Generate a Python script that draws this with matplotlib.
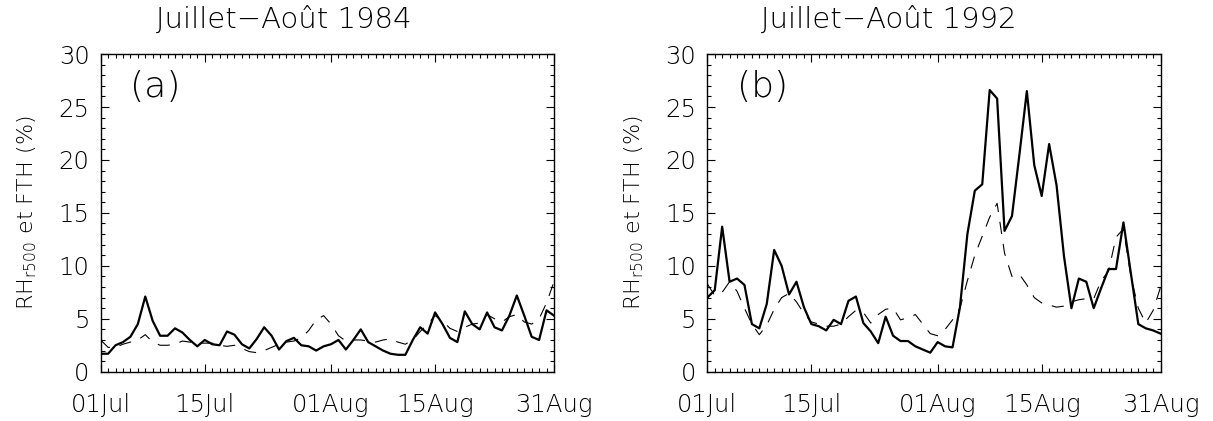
"""
RH r500 et FTH, juillet-aout 1984 / 1992
"""
import numpy as np
import matplotlib
matplotlib.use('Agg')
import matplotlib.pyplot as plt
from matplotlib.ticker import MultipleLocator, FixedLocator, FixedFormatter
from matplotlib.transforms import ScaledTranslation

plt.rcParams['font.family'] = ['DejaVu Sans']
plt.rcParams['font.weight'] = 'light'
plt.rcParams['mathtext.fontset'] = 'custom'
plt.rcParams['mathtext.rm'] = 'DejaVu Sans:light'
plt.rcParams['mathtext.it'] = 'DejaVu Sans:light'
plt.rcParams['mathtext.default'] = 'rm'

# jours depuis le 01 juillet (0..61)
days = np.arange(62)
tick_days = [0, 14, 31, 45, 61]
tick_labels = ['01Jul', '15Jul', '01Aug', '15Aug', '31Aug']

titles = ['Juillet\u2212Août 1984', 'Juillet\u2212Août 1992']
panel_tags = ['(a)', '(b)']
ylabel = r'$\mathrm{RH}_{\mathrm{r500}}\ \mathrm{et\ FTH\ (\%)}$'

# trait plein : RH r500 ; tirets : FTH
rh_1984 = [1.7, 1.7, 2.5, 2.8, 3.3, 4.5, 7.1, 4.8, 3.4, 3.4,
           4.1, 3.7, 3.0, 2.4, 3.0, 2.6, 2.5, 3.8, 3.5, 2.6,
           2.2, 3.1, 4.2, 3.4, 2.1, 2.9, 3.2, 2.5, 2.4, 2.0,
           2.4, 2.6, 3.0, 2.1, 3.0, 4.0, 2.8, 2.4, 2.0, 1.7,
           1.6, 1.6, 3.0, 4.2, 3.6, 5.6, 4.5, 3.2, 2.8, 5.7,
           4.5, 4.0, 5.6, 4.2, 3.9, 5.3, 7.2, 5.3, 3.3, 3.0,
           5.8, 5.3]
fth_1984 = [3.0, 2.3, 2.3, 2.6, 2.8, 3.0, 3.5, 2.8, 2.5, 2.5,
            2.6, 2.9, 2.8, 2.7, 2.7, 2.7, 2.5, 2.4, 2.5, 2.2,
            1.9, 1.8, 2.0, 2.3, 2.6, 2.8, 2.9, 3.2, 3.9, 4.9,
            5.3, 4.5, 3.4, 2.9, 3.0, 3.0, 2.9, 2.8, 3.0, 3.1,
            2.8, 2.6, 3.0, 3.8, 4.5, 5.3, 4.8, 4.1, 3.8, 4.2,
            4.5, 4.6, 5.4, 5.0, 4.7, 5.2, 5.4, 4.7, 4.5, 5.0,
            6.5, 8.5]
rh_1992 = [7.0, 7.7, 13.7, 8.5, 8.8, 8.2, 4.5, 4.1, 6.4, 11.5,
           10.0, 7.3, 8.5, 6.1, 4.5, 4.3, 3.9, 4.9, 4.5, 6.7,
           7.1, 4.6, 3.8, 2.7, 5.2, 3.4, 2.9, 2.9, 2.4, 2.1,
           1.8, 2.8, 2.4, 2.3, 6.1, 13.0, 17.1, 17.7, 26.6, 25.8,
           13.3, 14.7, 20.5, 26.5, 19.5, 16.6, 21.5, 17.6, 10.9, 6.0,
           8.8, 8.5, 6.0, 7.9, 9.7, 9.7, 14.1, 9.3, 4.5, 4.1,
           3.9, 3.6]
fth_1992 = [8.3, 7.2, 7.5, 8.5, 7.6, 6.0, 4.5, 3.5, 4.4, 5.9,
            7.0, 7.4, 6.6, 5.5, 4.7, 4.5, 4.3, 4.3, 4.5, 5.2,
            5.8, 5.6, 4.6, 5.4, 5.9, 6.0, 4.9, 5.1, 5.4, 4.5,
            3.6, 3.4, 4.0, 4.9, 6.0, 8.6, 11.0, 12.8, 14.6, 15.9,
            11.2, 9.0, 9.2, 8.2, 7.0, 6.5, 6.3, 6.1, 6.2, 6.6,
            6.8, 6.9, 6.9, 8.6, 9.5, 12.7, 13.5, 9.0, 6.0, 4.6,
            5.8, 8.0]

solid = [rh_1984, rh_1992]
dashed = [fth_1984, fth_1992]

fig = plt.figure(figsize=(12.13, 4.21), dpi=100)
lefts = [0.0830, 0.5831]
title_x = [0.234, 0.733]

for i in range(2):
    ax = fig.add_axes([lefts[i], 0.117, 0.3737, 0.7546])
    ax.plot(days, solid[i], color='black', lw=1.6)
    ax.plot(days, dashed[i], color='black', lw=0.8, dashes=(11, 9))

    ax.set_xlim(0, 61)
    ax.set_ylim(0, 30)
    ax.xaxis.set_major_locator(FixedLocator(tick_days))
    ax.xaxis.set_major_formatter(FixedFormatter(tick_labels))
    ax.xaxis.set_minor_locator(MultipleLocator(1))
    ax.yaxis.set_major_locator(MultipleLocator(5))
    ax.yaxis.set_minor_locator(MultipleLocator(1))
    ax.tick_params(which='both', direction='in', top=True, right=True, width=0.8)
    ax.tick_params(which='major', length=6)
    ax.tick_params(which='minor', length=3)
    ax.tick_params(axis='x', which='major', labelsize=17.5, pad=15)
    ax.tick_params(axis='y', which='major', labelsize=17.5, pad=8)
    for sp in ax.spines.values():
        sp.set_linewidth(1.0)

    # le "0" est un peu remonte, comme sur l'original
    t0 = ax.yaxis.get_major_ticks()[0]
    t0.label1.set_transform(t0.label1.get_transform()
                            + ScaledTranslation(0, 0.10, fig.dpi_scale_trans))

    ax.set_ylabel(ylabel, fontsize=16, labelpad=14)
    ax.text(0.065, 0.895, panel_tags[i], transform=ax.transAxes,
            fontsize=26, ha='left', va='center')
    fig.text(title_x[i], 0.952, titles[i], fontsize=21, ha='center', va='center')

plt.savefig('out.png', dpi=100)
